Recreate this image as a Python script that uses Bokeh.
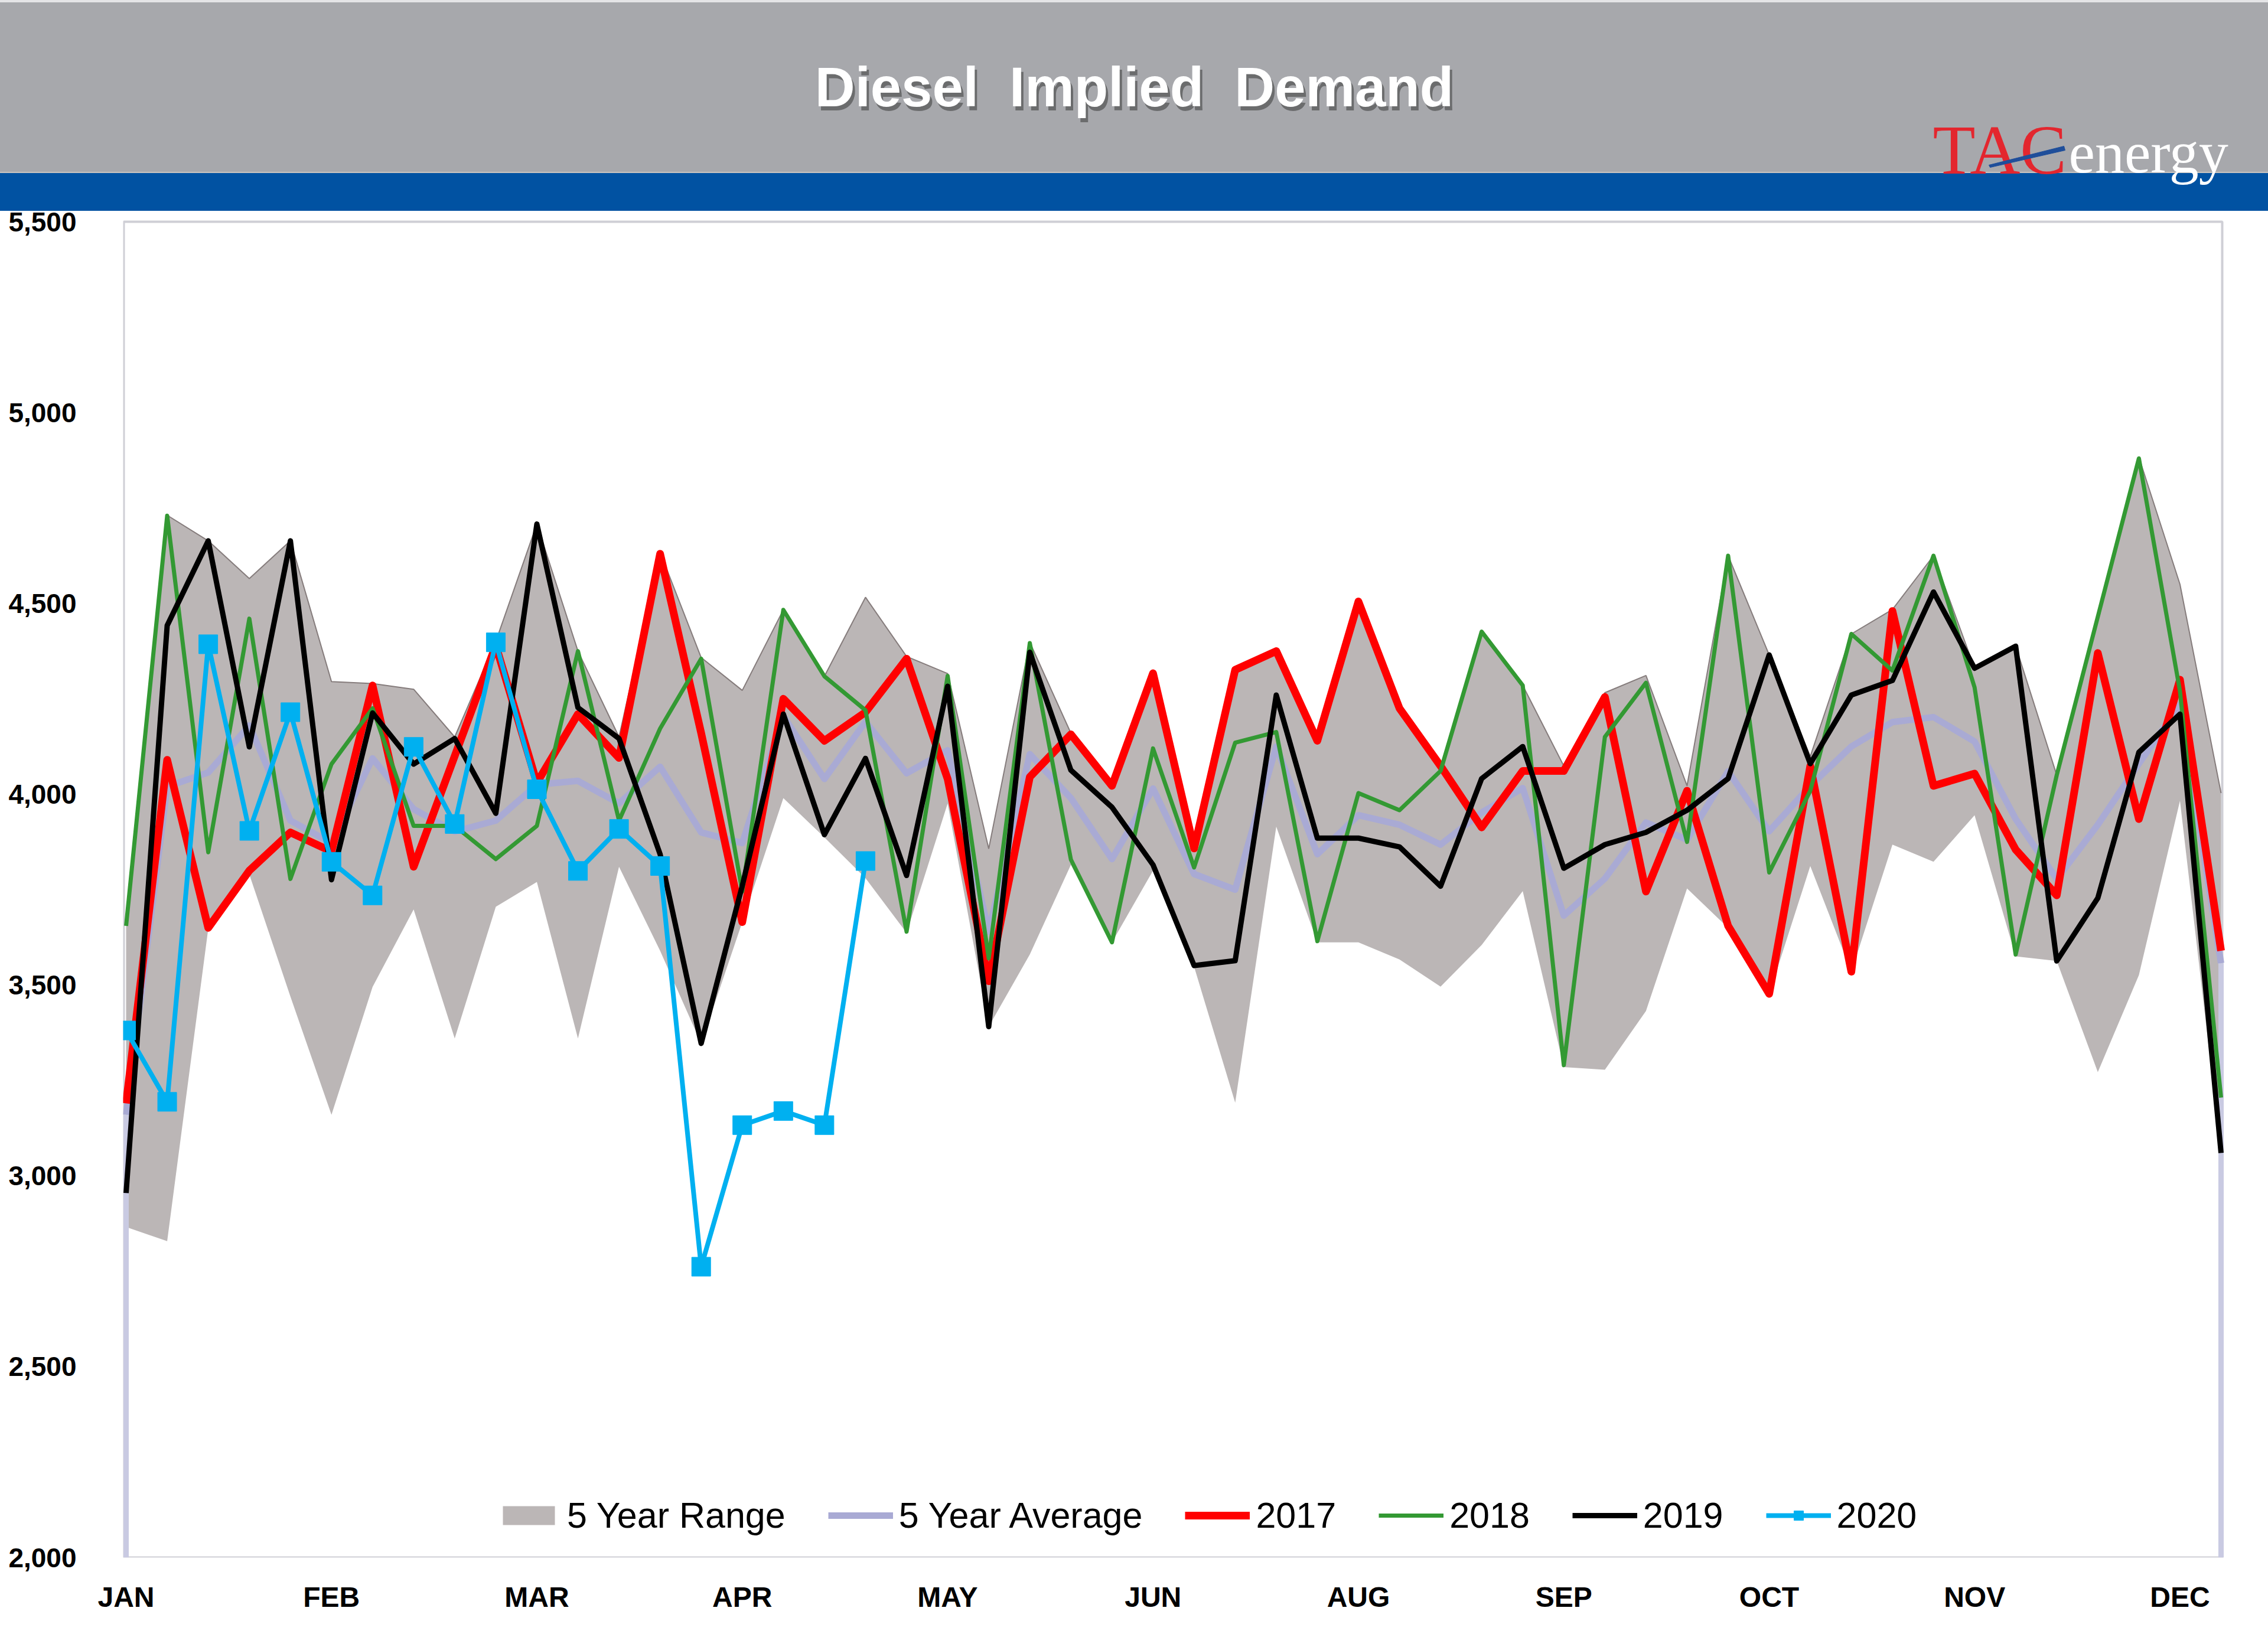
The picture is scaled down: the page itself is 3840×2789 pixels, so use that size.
from bokeh.plotting import figure
from bokeh.models import Range1d, FixedTicker, NumeralTickFormatter, Legend, LegendItem
from bokeh.embed import file_html
from bokeh.resources import INLINE
from bokeh.core.properties import value

# ---------------- data ----------------
weeks = list(range(52))
month_ticks = [0, 5, 10, 15, 20, 25, 30, 35, 40, 45, 50]
month_labels = ["JAN", "FEB", "MAR", "APR", "MAY", "JUN", "AUG", "SEP", "OCT", "NOV", "DEC"]
y_ticks = [2000, 2500, 3000, 3500, 4000, 4500, 5000, 5500]

range_low = [2866, 2829, 3648, 3790, 3470, 3160, 3495, 3698, 3360, 3705,
             3770, 3360, 3810, 3590, 3347, 3665, 3990, 3887, 3780, 3637,
             3976, 3391, 3580, 3815, 3612, 3800, 3548, 3192, 3915, 3612,
             3612, 3567, 3496, 3605, 3746, 3285, 3278, 3432, 3753, 3650,
             3477, 3812, 3535, 3868, 3823, 3945, 3575, 3563, 3272, 3526,
             3983, 3060]
range_high = [3658, 4731, 4664, 4565, 4664, 4295, 4290, 4275, 4150, 4400,
              4708, 4375, 4150, 4634, 4358, 4272, 4483, 4309, 4516, 4361,
              4316, 3857, 4398, 4160, 4025, 4320, 3860, 4326, 4378, 4144,
              4505, 4227, 4074, 4426, 4285, 4074, 4266, 4311, 4022, 4625,
              4365, 4099, 4420, 4484, 4625, 4330, 4388, 4050, 4465, 4883,
              4550, 4003]
avg5 = [3160, 4020, 4057, 4180, 3931, 3872, 4094, 3961, 3902, 3931,
        4025, 4035, 3976, 4072, 3900, 3872, 4205, 4040, 4190, 4055,
        4115, 3640, 4105, 3990, 3830, 4015, 3791, 3750, 4125, 3843,
        3945, 3920, 3868, 3952, 4016, 3682, 3779, 3926, 3881, 4060,
        3903, 4022, 4125, 4189, 4202, 4138, 3935, 3778, 3920, 4080,
        4235, 3557]
y2017 = [3190, 4090, 3650, 3800, 3900, 3850, 4285, 3810, 4100, 4390,
         4030, 4210, 4095, 4630, 4160, 3665, 4250, 4140, 4215, 4355,
         4040, 3510, 4045, 4157, 4022, 4317, 3858, 4326, 4375, 4140,
         4505, 4225, 4074, 3913, 4061, 4061, 4255, 3745, 4009, 3655,
         3477, 4074, 3535, 4480, 4022, 4054, 3855, 3735, 4370, 3935,
         4300, 3590]
y2018 = [3655, 4730, 3848, 4460, 3778, 4079, 4225, 3917, 3917, 3830,
         3917, 4375, 3931, 4172, 4355, 3745, 4483, 4309, 4220, 3640,
         4310, 3570, 4396, 3829, 3612, 4120, 3808, 4135, 4163, 3615,
         4003, 3958, 4061, 4426, 4285, 3290, 4150, 4292, 3875, 4625,
         3795, 4009, 4420, 4324, 4625, 4280, 3580, 4050, 4465, 4880,
         4270, 3205]
y2019 = [2955, 4442, 4664, 4124, 4664, 3776, 4213, 4079, 4146, 3950,
         4708, 4227, 4146, 3843, 3347, 3760, 4210, 3894, 4094, 3787,
         4283, 3391, 4372, 4063, 3966, 3815, 3551, 3564, 4260, 3885,
         3885, 3862, 3759, 4041, 4125, 3806, 3868, 3900, 3958, 4041,
         4365, 4080, 4260, 4298, 4530, 4330, 4388, 3563, 3728, 4110,
         4210, 3060]
y2020 = [3381, 3194, 4393, 3904, 4215, 3823, 3735, 4124, 3922, 4398,
         4013, 3799, 3909, 3812, 2762, 3133, 3170, 3133, 3825]
weeks2020 = weeks[:len(y2020)]

# ---------------- layout constants (canvas pixels) ----------------
W, H = 3840, 2785
FL, FR = 208, 3780          # frame left / right
PT, FB = 375, 2637          # canvas y of the 5,500 line / of the 2,000 line (frame bottom)
X_FIRST, X_LAST = 213, 3760 # canvas x of first / last week
PX_PER_WEEK = (X_LAST - X_FIRST) / (len(weeks) - 1)
XR0 = weeks[0] - (X_FIRST - FL) / PX_PER_WEEK
XR1 = weeks[-1] + (FR - X_LAST) / PX_PER_WEEK
YMIN, YMAX = y_ticks[0], y_ticks[-1]
Y_PER_PX = (YMAX - YMIN) / (FB - PT)
YTOP = YMIN + FB * Y_PER_PX   # frame extends up to canvas top (header lives inside)
GRAY_BOTTOM, BLUE_BOTTOM = 293, 357
BORDER_R = 3762


def dx(cx):
    return XR0 + (cx - FL) / PX_PER_WEEK


def dy(cy):
    return YMIN + (FB - cy) * Y_PER_PX


p = figure(width=W, height=H, x_range=Range1d(XR0, XR1), y_range=Range1d(YMIN, YTOP),
           output_backend="svg", toolbar_location=None,
           min_border_left=FL, min_border_right=W - FR, min_border_top=0, min_border_bottom=H - FB)
p.grid.visible = False
p.outline_line_color = None
p.background_fill_alpha = 0
p.border_fill_alpha = 0
p.styles = {"background": "linear-gradient(to bottom, #e4e4e6 0px, #e4e4e6 4px, #a7a8ac 4px, "
                          "#a7a8ac %dpx, #d6cfc8 %dpx, "
                          "#0152a2 %dpx, #0152a2 %dpx, #ffffff %dpx, #ffffff 100%%)"
                          % (GRAY_BOTTOM - 3, GRAY_BOTTOM, GRAY_BOTTOM, BLUE_BOTTOM, BLUE_BOTTOM)}

# plot-area border
p.quad(left=dx(FL + 1), right=dx(BORDER_R), bottom=YMIN, top=YMAX, fill_alpha=0,
       line_color="#cfcfd6", line_width=4)

# title with shadow
title_text = ["Diesel\u00a0 Implied\u00a0 Demand"]
p.text(x=[dx(1924)], y=[dy(154)], text=title_text, text_font=value("Liberation Sans"),
       text_font_style="bold", text_font_size="94px", text_color="#3a3a3a",
       text_alpha=0.55, text_align="center", text_baseline="middle")
p.text(x=[dx(1920)], y=[dy(147)], text=title_text, text_font=value("Liberation Sans"),
       text_font_style="bold", text_font_size="94px", text_color="#ffffff",
       text_align="center", text_baseline="middle")

# logo
p.text(x=[dx(3272)], y=[dy(254)], text=["TAC"], text_font=value("Liberation Serif"),
       text_font_size="118px", text_color="#e3262e",
       text_align="left", text_baseline="middle")
p.text(x=[dx(3502)], y=[dy(258)], text=["energy"], text_font=value("Liberation Serif"),
       text_font_size="100px", text_color="#ffffff",
       text_align="left", text_baseline="middle")
p.patch(x=[dx(3367), dx(3494), dx(3496), dx(3369)],
        y=[dy(279), dy(247), dy(254), dy(283)], color="#1f4e9a")

# axes
p.xaxis.ticker = FixedTicker(ticks=month_ticks)
p.xaxis.major_label_overrides = {t: l for t, l in zip(month_ticks, month_labels)}
p.yaxis.ticker = FixedTicker(ticks=y_ticks)
p.yaxis.formatter = NumeralTickFormatter(format="0,0")
for ax in (p.xaxis, p.yaxis):
    ax.axis_line_color = None
    ax.major_tick_line_color = None
    ax.minor_tick_line_color = None
    ax.major_label_text_font = "Liberation Sans"
    ax.major_label_text_font_style = "bold"
    ax.major_label_text_color = "#000000"
p.xaxis.major_label_text_font_size = "48px"
p.yaxis.major_label_text_font_size = "46px"
p.xaxis.major_label_standoff = 34
p.yaxis.major_label_standoff = 73

# series
r_range = p.varea(x=weeks, y1=range_low, y2=range_high, fill_color="#bbb6b6")
p.line(weeks, range_high, line_color="#857c7c", line_width=2)
r_avg = p.line(weeks, avg5, line_color="#a9aad4", line_width=11, line_join="round")
p.segment(x0=[weeks[0], weeks[-1]], y0=[YMIN, YMIN],
          x1=[weeks[0], weeks[-1]], y1=[avg5[0], avg5[-1]],
          line_color="#c9cae2", line_width=9)
r17 = p.line(weeks, y2017, line_color="#ff0000", line_width=13, line_join="round")
r18 = p.line(weeks, y2018, line_color="#339933", line_width=7, line_join="round")
r19 = p.line(weeks, y2019, line_color="#000000", line_width=9, line_join="round")
r20 = p.line(weeks2020, y2020, line_color="#00b0f0", line_width=8, line_join="round")
s20 = p.scatter(weeks2020, y2020, marker="square", size=32, color="#00b0f0")

legend = Legend(items=[
    LegendItem(label="5 Year Range", renderers=[r_range]),
    LegendItem(label="5 Year Average", renderers=[r_avg]),
    LegendItem(label="2017", renderers=[r17]),
    LegendItem(label="2018", renderers=[r18]),
    LegendItem(label="2019", renderers=[r19]),
    LegendItem(label="2020", renderers=[r20, s20]),
], orientation="horizontal", location=(632, 36))
legend.label_text_font = "Liberation Sans"
legend.label_text_font_size = "61px"
legend.label_text_color = "#000000"
legend.glyph_width = 110
legend.glyph_height = 40
legend.label_standoff = 10
legend.spacing = 72
legend.padding = 0
legend.margin = 0
legend.border_line_color = None
legend.background_fill_alpha = 0
p.add_layout(legend)

open("out.html", "w").write(file_html(p, INLINE))
